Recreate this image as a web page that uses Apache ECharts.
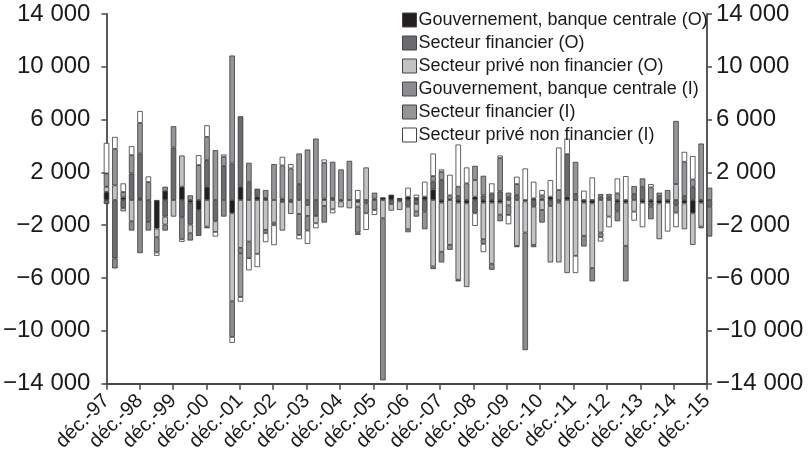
<!DOCTYPE html>
<html>
<head>
<meta charset="utf-8">
<script src="https://cdn.jsdelivr.net/npm/echarts@6/dist/echarts.min.js"></script>
<style>
  html, body { margin: 0; background: #fff; }
  #chart { width: 810px; height: 454px; }
</style>
</head>
<body>
<div id="chart"></div>
<script>
// libellés des années (un trait tous les 4 trimestres)
const yearLabels = ['déc.-97', 'déc.-98', 'déc.-99', 'déc.-00', 'déc.-01', 'déc.-02', 'déc.-03',
  'déc.-04', 'déc.-05', 'déc.-06', 'déc.-07', 'déc.-08', 'déc.-09', 'déc.-10', 'déc.-11',
  'déc.-12', 'déc.-13', 'déc.-14', 'déc.-15']

// séries trimestrielles, déc.-97 -> déc.-15 (73 trimestres)
const gouvO = [600, 0, 200, 0, 150, 0, -2150, 700, 0, 1000, -200, -750, 1000, 0, 0, -1000,
  1000, 0, 250, 150, 0, 100, 0, 0, 0, 0, 100, 0, 0, 0, -150, 0, 0, 200, 400, 150,
  250, 150, 250, 800, -200, 50, -200, -250, 250, -200, -200, -200, 0, 0, -100, 125, 0, 250,
  0, 250, 0, -200, -250, 0, 0, -200, -200, 0, -200, -200, -250, -200, 0, -250, -1000, -200, 0]
const finO = [-300, -4400, -600, 2000, 3350, -1650, 0, -1250, 3950, -1300, -1650, -1950, 2000, -1600, 2550, 2750,
  5300, 1375, 600, 0, 0, -150, -150, 1200, -375, -1200, 0, 150, -100, 0, 0, -250, 100, 0, -300, -100,
  -500, -300, -875, 575, 1500, 0, 300, 0, -1000, 350, 500, 650, 250, 375, 0, -500, 100, -450,
  -200, 3200, 450, 0, 0, 250, 250, -650, 0, 450, 1000, -300, 300, 0, -400, 300, 1000, 0, -500]
const priveO = [400, 1100, -250, -1600, 0, 0, -650, -600, -1250, 2350, -650, 0, -2000, -800, 0, -6625,
  -3600, -3125, -4050, -2250, -1700, -2150, -900, -1050, -825, -550, -450, -700, -450, -625, -350, 2450, 0, -1375, -500, -650,
  -1700, -550, 0, -5000, -3700, -3375, -5800, -6300, 1250, -2750, -4600, -900, -400, -3450, -2350, -2875, -750, -4250,
  -4500, -5500, -4200, -2500, -4875, -2450, -1250, 0, -3250, -875, 0, 0, -2700, 0, 1200, -1950, -2375, -1800, 0]
const gouvI = [0, -750, 0, -700, -4000, -650, -1150, -450, 0, -1650, -550, 0, -125, 0, -1250, -2675,
  -400, -1250, 0, -250, -200, 0, 0, -1575, -1100, 0, -1250, 0, 0, 0, -1950, 0, -750, -12200, 0, 0,
  0, 0, 0, -200, -800, -375, -125, 0, 0, -350, -450, -500, -725, -100, -8850, -175, -950, 0,
  0, 0, 0, -800, -1000, -350, 0, -750, -2675, 0, 0, -950, 0, 0, -550, 0, 0, -125, -2250]
const finI = [1000, 2750, 400, 1375, 2300, 1350, 0, 300, 1600, 0, 350, 2625, 1750, 3750, 700, 8125,
  -3300, 1425, 0, 600, 2700, 2500, 2375, 2300, 3800, 4625, 2700, 2725, 2300, 2950, -175, -750, 450, 0, 0, 0,
  -225, -400, -1325, 425, 625, 300, 700, 1250, 1075, 1475, 0, 2500, 300, 825, 0, 0, 250, 0,
  750, 0, 2425, 0, 0, 200, 200, 500, 0, 600, 625, 950, 250, 750, 4750, 2575, 550, 4250, 925]
const priveI = [2300, 900, 650, 675, 900, 425, -250, 0, 0, -200, 0, 750, 875, -350, 175, -450,
  -350, -925, -1000, -675, -1500, 650, 325, -325, -1000, -375, 250, -300, 0, 0, 750, -1250, -375, 0, 0, 0,
  675, 250, 1125, 1700, 175, 1550, 3175, 1200, -950, -625, 750, 200, -700, 550, 2375, 1250, 400, 1250,
  3200, 1175, -1300, 700, 1700, -325, -800, 1125, 1800, -675, -1850, 250, 0, -2175, -1100, 750, 1750, 0, 0]

const seriesNames = ['Gouvernement, banque centrale (O)', 'Secteur financier (O)', 'Secteur privé non financier (O)',
  'Gouvernement, banque centrale (I)', 'Secteur financier (I)', 'Secteur privé non financier (I)']
const seriesData = [gouvO, finO, priveO, gouvI, finI, priveI]
const colors = ['#231f20', '#6a6b6e', '#c1c2c4', '#8b8c8f', '#939598', '#ffffff']

// un trimestre par barre
const quarters = gouvO.map((v, i) => 'T' + i)

// format « 14 000 » / « −2 000 »
function fmt(v) {
  const s = String(Math.abs(v)).replace(/\B(?=(\d{3})+(?!\d))/g, ' ')
  return (v < 0 ? '−' : '') + s
}

const chart = echarts.init(document.getElementById('chart'))

const axisColor = '#474747'
function yAxisOf(position, margin) {
  return {
    type: 'value',
    gridIndex: 0,
    position: position,
    min: -14000,
    max: 14000,
    interval: 4000,
    splitLine: {show: false},
    axisLine: {show: true, lineStyle: {color: axisColor, width: 1.8}},
    axisTick: {show: true, length: 5, lineStyle: {color: axisColor, width: 1.5}},
    axisLabel: {
      formatter: fmt,
      color: '#1a1a1a',
      fontSize: 24,
      fontFamily: 'Liberation Sans',
      margin: margin
    }
  }
}

// la grille des barres est décalée pour que chaque barre commence sur son trimestre
const step = 603 / 72

chart.setOption({
  animation: false,
  backgroundColor: '#fff',
  grid: [
    {left: 104, right: 103, top: 14, bottom: 68},
    {left: 104 - 0.2 * step, width: 73 * step, top: 14, bottom: 68}
  ],
  legend: {
    orient: 'vertical',
    left: 397,
    top: 6,
    itemWidth: 14,
    itemHeight: 14,
    itemGap: 5,
    icon: 'rect',
    data: seriesNames,
    textStyle: {fontSize: 18, color: '#1a1a1a', fontFamily: 'Liberation Sans', padding: [0, 0, 0, -3]},
    itemStyle: {borderColor: '#444', borderWidth: 1}
  },
  xAxis: [
    {
      type: 'value',
      gridIndex: 0,
      min: 0,
      max: 72,
      interval: 4,
      splitLine: {show: false},
      axisLine: {onZero: false, lineStyle: {color: axisColor, width: 1.8}},
      axisTick: {show: true, length: 6, lineStyle: {color: axisColor, width: 1.5}},
      axisLabel: {
        formatter: v => yearLabels[Math.round(v / 4)] || '',
        rotate: 45,
        color: '#1a1a1a',
        fontSize: 20,
        fontFamily: 'Liberation Sans',
        margin: 14
      }
    },
    {
      type: 'category',
      gridIndex: 1,
      data: quarters,
      show: false
    }
  ],
  yAxis: [
    yAxisOf('left', 16),
    yAxisOf('right', 9),
    {type: 'value', gridIndex: 1, min: -14000, max: 14000, show: false, splitLine: {show: false}}
  ],
  series: seriesData.map((arr, k) => ({
    name: seriesNames[k],
    type: 'bar',
    stack: 'total',
    xAxisIndex: 1,
    yAxisIndex: 2,
    barWidth: 5.5,
    itemStyle: {color: colors[k], borderColor: '#3a3a3a', borderWidth: 0.8},
    data: arr.map(v => v === 0 ? '-' : v)
  }))
})
</script>
</body>
</html>
